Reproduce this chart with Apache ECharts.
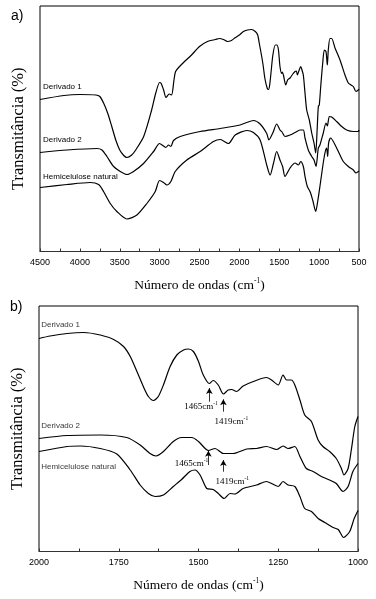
<!DOCTYPE html>
<html>
<head>
<meta charset="utf-8">
<script src="https://cdn.jsdelivr.net/npm/echarts@6/dist/echarts.min.js"></script>
<style>
html,body{margin:0;padding:0;background:#fff;}
#c{width:376px;height:599px;}
</style>
</head>
<body>
<div id="c"></div>
<script>
// ---- Panel a) full spectrum: [wavenumber cm-1, transmittance (a.u.)]
const derivado1A = [[4500,152],[4200,156],[4000,157],[3800,156.5],[3750,155],[3700,148],[3650,138],[3600,125],[3550,111.5],[3500,101.5],[3450,96],[3410,94],[3350,96.5],[3300,101.5],[3200,115],[3100,141.5],[3050,158],[3000,169],[2980,168],[2950,161.5],[2920,154],[2880,157.5],[2850,156.5],[2820,171.5],[2800,180],[2750,185],[2700,189],[2600,196.5],[2500,205],[2400,210],[2300,212],[2250,213],[2200,212],[2150,210],[2100,211],[2050,214],[2000,216.5],[1950,220],[1900,221.5],[1850,222],[1800,220],[1770,216.5],[1750,208],[1720,195],[1700,185],[1680,173],[1650,163],[1635,162],[1620,166.5],[1600,181.5],[1580,196.5],[1550,206.5],[1530,206.5],[1510,201.5],[1491,185],[1470,178],[1460,179.5],[1445,175.5],[1419,166.5],[1395,171.5],[1365,173.5],[1330,177.5],[1302,180],[1285,180.5],[1273,176.5],[1250,181.5],[1231,185],[1215,181.5],[1198,176.5],[1177,158.5],[1156,141.5],[1123,131.5],[1093,118.5],[1064,108.5],[1043,98.5],[1025,121.5],[1010,145],[998,146.5],[980,165],[955,188.5],[935,201.5],[914,200],[897,186.5],[885,201.5],[864,213],[843,213],[801,203.5],[738,191.5],[676,176.5],[634,168.5],[600,166.5],[571,165],[538,160],[509,161.5],[500,162.5]];
const derivado2A = [[4500,99],[4160,101.5],[3786,103],[3723,101.5],[3661,95],[3577,85],[3494,80],[3410,77],[3327,80],[3202,88],[3076,100],[3001,108],[2951,105.5],[2922,104],[2888,106.5],[2859,105],[2826,111],[2742,115],[2492,120],[2241,123],[1991,126.5],[1824,131],[1740,127.5],[1657,118],[1630,111.5],[1581,118.5],[1532,127.5],[1491,121.5],[1465,119.5],[1428,115],[1365,116.5],[1302,119],[1240,121.5],[1198,121.5],[1177,113.5],[1136,101.5],[1093,95],[1064,91.5],[1039,85],[1010,103.5],[990,106.5],[948,118.5],[914,128.5],[897,125.5],[872,135],[843,134.5],[780,130],[717,125],[655,121.5],[571,120],[509,120],[500,121.5]];
const hemicelA = [[4500,64],[4162,67],[3870,69],[3765,67],[3703,60],[3619,48],[3536,40],[3410,32.5],[3285,36.5],[3160,48],[3055,60],[3001,71],[2951,69],[2909,66.5],[2859,70],[2805,80],[2659,91.5],[2492,100],[2325,110],[2241,112],[2137,108],[2053,116.5],[1907,121],[1824,119],[1740,111.5],[1657,86.5],[1615,76.5],[1573,88],[1532,100],[1491,91.5],[1458,85],[1428,75],[1365,83.5],[1302,88.5],[1260,86.5],[1231,90],[1198,85],[1177,75],[1148,65],[1114,60],[1081,51.5],[1043,40],[1018,50],[990,65],[955,85],[927,98.5],[906,103.5],[893,95],[881,108.5],[856,113.5],[822,110],[759,100],[697,90],[634,85],[571,81.5],[538,78.5],[509,80],[500,80.5]];

// ---- Panel b) 2000-1000 cm-1 region
const derivado1B = [[2000,213],[1965,215.5],[1912,218],[1860,219],[1808,216.5],[1766,212],[1735,205],[1714,195],[1693,180],[1673,165],[1657,155],[1641,151],[1626,155],[1610,166.5],[1589,185],[1568,196.5],[1547,201.5],[1532,202.5],[1516,200],[1500,190],[1485,176.5],[1466,168],[1454,171],[1438,166.5],[1422,157.5],[1407,161.5],[1396,162],[1381,160],[1360,165.5],[1328,170],[1287,174],[1271,171.5],[1250,166.5],[1235,176.5],[1224,171.5],[1209,171.5],[1198,166.5],[1182,151.5],[1167,136.5],[1146,130],[1125,111.5],[1110,105],[1089,100],[1068,93],[1052,83],[1044,76.5],[1031,83],[1021,101.5],[1010,125],[1000,135]];
const derivado2B = [[2000,113],[1912,116],[1808,116.5],[1725,114],[1683,106.5],[1652,98],[1633,95.5],[1610,100],[1579,110],[1553,114],[1521,114],[1500,110],[1469,101],[1448,103],[1422,98],[1391,98],[1349,102.5],[1318,103],[1287,105],[1255,102],[1235,105.5],[1219,103],[1198,105],[1182,95],[1162,83],[1141,80],[1115,75],[1089,71.5],[1068,68],[1047,60],[1031,65],[1016,80],[1000,88]];
const hemicelB = [[2000,100],[1912,105],[1871,105.5],[1808,103],[1756,97.5],[1714,81.5],[1683,66.5],[1657,58],[1636,55],[1610,56.5],[1579,65],[1553,72],[1527,80],[1511,81.5],[1495,76.5],[1474,63],[1454,62],[1438,58],[1420,53],[1401,58],[1386,57.5],[1360,63],[1318,66.5],[1287,70],[1250,65],[1235,70],[1219,66.5],[1198,65],[1182,55],[1167,43],[1146,40],[1125,33],[1104,29],[1078,24],[1062,22],[1045,14],[1026,20],[1012,33],[1000,41]];

// ---- text labels
const seriesNames = ['Derivado 1','Derivado 2','Hemicelulose natural'];
const labelPosA = [[4462,164.5],[4462,111.5],[4462,74.5]];
const labelPosB = [[1993,226.5],[1993,125.5],[1993,84.5]];
const bandLabels = ['1465','1419'];
// arrows: [wavenumber, tailT, tipT], annotation text positions [wn, T]
const arrowsD1 = [[1466,149.8,163.5],[1422,139.8,152.2]];
const annotD1 = [[1492,144.8],[1397,129.8]];
const arrowsD2 = [[1469,86.5,100.8],[1422,79.8,91.5]];
const annotD2 = [[1522,88.2],[1394,69.8]];
const xTicksA = {min:500,max:4500,interval:500};
const xTicksB = {min:1000,max:2000,interval:250};

const serif = '"Liberation Serif","Times New Roman",serif';
const sans = '"Liberation Sans",Arial,sans-serif';

function nameLabel(pos, text){
  return {
    symbol:'circle', symbolSize:0, silent:true, animation:false,
    label:{show:true, position:'right', distance:0, formatter:text, fontFamily:sans, fontSize:8, color:'#000'},
    data:[{coord:pos}]
  };
}
function arrowLines(arrs){
  return {
    silent:true, animation:false, symbolSize:[5,6],
    lineStyle:{color:'#000', width:0.8, type:'solid'},
    label:{show:false},
    data: arrs.map(a=>[{coord:[a[0],a[1]], symbol:'none'},{coord:[a[0],a[2]], symbol:'arrow'}])
  };
}
function annotPoints(pos){
  return pos.map((p,i)=>({coord:p, value:bandLabels[i]}));
}
const annotRich = {
  a:{fontFamily:serif, fontSize:9, color:'#000'},
  s:{fontFamily:serif, fontSize:5.5, color:'#000', padding:[0,0,6,0]}
};

function line(name, data, xi, extra){
  return Object.assign({
    type:'line', name:name, data:data, xAxisIndex:xi, yAxisIndex:xi,
    showSymbol:false, symbol:'none', smooth:0.25, animation:false,
    lineStyle:{color:'#000', width:1.2}, silent:true
  }, extra||{});
}

const axisName = {
  x:'{a|Número de ondas (cm}{s|-1}{a|)}',
  y:'Transmitância (%)'
};
const xRich = {
  a:{fontFamily:serif, fontSize:13.5, color:'#000'},
  s:{fontFamily:serif, fontSize:7.5, color:'#000', padding:[0,0,8,0]}
};

function xAxis(ticks, gi){
  return {
    type:'value', gridIndex:gi, inverse:true, min:ticks.min, max:ticks.max, interval:ticks.interval,
    axisLine:{show:true, lineStyle:{color:'#333', width:1}},
    axisTick:{show:true, inside:true, length:3, lineStyle:{color:'#333'}},
    minorTick:{show:true, splitNumber:2, length:3, lineStyle:{color:'#333'}},
    splitLine:{show:false}, minorSplitLine:{show:false},
    axisLabel:{fontFamily:sans, fontSize:9, color:'#000', margin:7, formatter:v=>String(v)},
    name:axisName.x, nameLocation:'middle', nameGap:26,
    nameTextStyle:{rich:xRich}
  };
}
function yAxis(gi){
  return {
    type:'value', gridIndex:gi, min:0, max:245.5,
    axisLine:{show:false}, axisTick:{show:false}, axisLabel:{show:false}, splitLine:{show:false},
    name:axisName.y, nameLocation:'middle', nameGap:13, nameRotate:90,
    nameTextStyle:{fontFamily:serif, fontSize:16.5, color:'#000'}
  };
}

const chart = echarts.init(document.getElementById('c'), null, {renderer:'canvas'});
chart.setOption({
  animation:false,
  backgroundColor:'#fff',
  title:[
    {text:'a)', left:6, top:4, textStyle:{fontFamily:sans, fontSize:14, fontWeight:'normal', color:'#000'}},
    {text:'b)', left:5, top:295, textStyle:{fontFamily:sans, fontSize:14, fontWeight:'normal', color:'#000'}}
  ],
  grid:[
    {left:40, right:17, top:6, height:245.5, show:true, borderColor:'#000', borderWidth:1, backgroundColor:'transparent'},
    {left:39, right:18, top:306, height:245.5, show:true, borderColor:'#000', borderWidth:1, backgroundColor:'transparent'}
  ],
  xAxis:[xAxis(xTicksA,0), xAxis(xTicksB,1)],
  yAxis:[yAxis(0), yAxis(1)],
  series:[
    line(seriesNames[0], derivado1A, 0, {markPoint:nameLabel(labelPosA[0], seriesNames[0])}),
    line(seriesNames[1], derivado2A, 0, {markPoint:nameLabel(labelPosA[1], seriesNames[1])}),
    line(seriesNames[2], hemicelA, 0, {markPoint:nameLabel(labelPosA[2], seriesNames[2])}),
    line(seriesNames[0], derivado1B, 1, {
      markPoint:{symbol:'circle', symbolSize:0, silent:true, animation:false,
        label:{show:true, position:'inside', formatter:p=>'{a|'+p.value+'cm}{s|-1}', rich:annotRich},
        data:annotPoints(annotD1)},
      markLine:arrowLines(arrowsD1)
    }),
    line(seriesNames[1], derivado2B, 1, {
      markPoint:{symbol:'circle', symbolSize:0, silent:true, animation:false,
        label:{show:true, position:'inside', formatter:p=>'{a|'+p.value+'cm}{s|-1}', rich:annotRich},
        data:annotPoints(annotD2)},
      markLine:arrowLines(arrowsD2)
    }),
    line(seriesNames[2], hemicelB, 1),
    // curve names in panel b
    {type:'scatter', xAxisIndex:1, yAxisIndex:1, symbolSize:0, silent:true, animation:false,
      data:labelPosB.map((p,i)=>({value:p, name:seriesNames[i]})),
      label:{show:true, position:'right', distance:0, formatter:p=>p.name, fontFamily:sans, fontSize:8, color:'#000'}}
  ]
});
</script>
</body>
</html>
